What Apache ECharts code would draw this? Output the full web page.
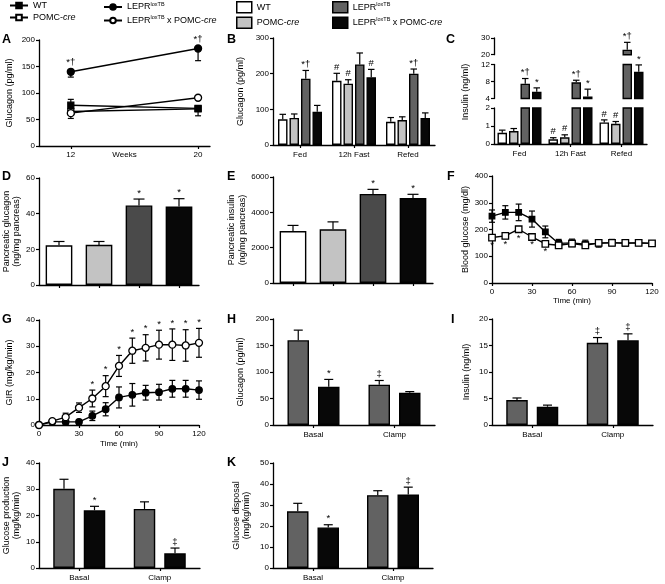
<!DOCTYPE html>
<html><head><meta charset="utf-8">
<script src="https://cdn.jsdelivr.net/npm/echarts@6/dist/echarts.min.js"></script>
<style>html,body{margin:0;padding:0;background:#fff}#c{width:665px;height:584px}</style>
</head><body><div id="c"></div>
<script>
// ================= DATA =================
// Panel A: plasma glucagon vs age
const A_weeks = [12, 20];
const A_WT = [77, 71];            const A_WT_errUp = [11, 0];   const A_WT_errDn = [0, 14];
const A_POMC = [65, 70];          const A_POMC_errUp = [0, 0];  const A_POMC_errDn = [0, 0];
const A_LEPR = [140, 184];        const A_LEPR_errUp = [0, 0];  const A_LEPR_errDn = [10, 23];
const A_LEPRxPOMC = [62, 91];     const A_LEPRxPOMC_errUp = [0, 0]; const A_LEPRxPOMC_errDn = [10, 0];
const A_LEPR_sig = ['*†', '*†'];

// Panel B: glucagon by feeding state
const B_cats = ['Fed', '12h Fast', 'Refed'];
const B_WT = [72, 180, 65];          const B_WT_err = [14, 21, 12];
const B_POMC = [76, 172, 70];        const B_POMC_err = [11, 11, 9];
const B_LEPR = [186, 226, 200];      const B_LEPR_err = [23, 32, 13];
const B_LEPRxPOMC = [93, 190, 76];   const B_LEPRxPOMC_err = [18, 22, 14];
const B_WT_sig = ['', '#', ''];
const B_POMC_sig = ['', '#', ''];
const B_LEPR_sig = ['*†', '', '*†'];
const B_LEPRxPOMC_sig = ['', '#', ''];

// Panel C: insulin by feeding state (broken axis)
const C_cats = ['Fed', '12h Fast', 'Refed'];
const C_WT = [0.62, 0.26, 1.2];       const C_WT_err = [0.15, 0.09, 0.14];
const C_POMC = [0.72, 0.37, 1.12];    const C_POMC_err = [0.14, 0.14, 0.13];
const C_LEPR = [7.5, 7.8, 23];        const C_LEPR_err = [1.2, 0.5, 4.4];
const C_LEPRxPOMC = [5.6, 4.5, 10.3]; const C_LEPRxPOMC_err = [0.9, 1.7, 1.6];
const C_WT_sig = ['', '#', '#'];
const C_POMC_sig = ['', '#', '#'];
const C_LEPR_sig = ['*†', '*†', '*†'];
const C_LEPRxPOMC_sig = ['*', '*', '*'];
const C_segments = [[0, 2, 1], [4, 12, 4], [20, 30, 10]]; // [min, max, interval]

// Panel D: pancreatic glucagon
const D_vals = [22.3, 22.5, 44.6, 44.0];
const D_err = [2.1, 1.9, 3.6, 4.4];
const D_sig = ['', '', '*', '*'];

// Panel E: pancreatic insulin
const E_vals = [2940, 3040, 5040, 4810];
const E_err = [320, 420, 260, 210];
const E_sig = ['', '', '*', '*'];

// Panel F: blood glucose during clamp
const F_time = [0, 10, 20, 30, 40, 50, 60, 70, 80, 90, 100, 110, 120];
const F_filled = [250, 264, 264, 239, 191, 148, 150, 145, 148, 151, 148, 150, 148];
const F_filled_err = [23, 25, 31, 30, 22, 15, 14, 15, 14, 12, 6, 6, 6];
const F_open = [170, 176, 201, 172, 146, 141, 147, 141, 150, 150, 150, 150, 148];
const F_open_err = [8, 10, 10, 6, 5, 5, 5, 5, 5, 5, 4, 4, 4];
const F_sig = ['*', '*', '*', '*', '*', '', '', '', '', '', '', '', ''];

// Panel G: glucose infusion rate
const G_time = [0, 10, 20, 30, 40, 50, 60, 70, 80, 90, 100, 110, 120];
const G_open = [0, 1.5, 3.0, 6.6, 10.1, 14.8, 22.5, 28.3, 29.4, 30.6, 30.6, 30.3, 31.3];
const G_open_err = [0, 0.5, 1.5, 1.8, 3.2, 4.0, 4.0, 4.8, 5.0, 5.5, 6.0, 6.0, 5.5];
const G_filled = [0, 1.2, 1.2, 1.2, 3.5, 6.0, 10.5, 11.5, 12.3, 12.5, 13.8, 13.8, 13.3];
const G_filled_err = [0, 0.5, 1.0, 0.8, 1.8, 2.5, 4.0, 4.3, 2.8, 3.0, 3.2, 3.2, 3.5];
const G_sig = ['', '', '', '', '*', '*', '*', '*', '*', '*', '*', '*', '*'];

// Panels H-K: clamp studies
const HK_cats = ['Basal', 'Clamp'];
const H_LEPR = [160, 76];     const H_LEPR_err = [19, 8];     const H_LEPR_sig = ['', '‡'];
const H_LEPRxPOMC = [72, 61]; const H_LEPRxPOMC_err = [14, 2]; const H_LEPRxPOMC_sig = ['*', ''];
const I_LEPR = [4.7, 15.5];   const I_LEPR_err = [0.4, 1.0];   const I_LEPR_sig = ['', '‡'];
const I_LEPRxPOMC = [3.45, 16.0]; const I_LEPRxPOMC_err = [0.3, 1.2]; const I_LEPRxPOMC_sig = ['', '‡'];
const J_LEPR = [30.2, 22.5];  const J_LEPR_err = [3.6, 2.7];   const J_LEPR_sig = ['', ''];
const J_LEPRxPOMC = [22.0, 5.6]; const J_LEPRxPOMC_err = [1.5, 2.0]; const J_LEPRxPOMC_sig = ['*', '‡'];
const K_LEPR = [27.0, 34.7];  const K_LEPR_err = [3.8, 2.1];   const K_LEPR_sig = ['', ''];
const K_LEPRxPOMC = [19.3, 35.0]; const K_LEPRxPOMC_err = [1.3, 3.5]; const K_LEPRxPOMC_sig = ['*', '‡'];

// Text
const PANEL_LETTERS = ['A','B','C','D','E','F','G','H','I','J','K'];
const LEGEND_LABELS = {
  lWT: '{n|WT}', lPOMC: '{n|POMC-}{i|cre}', lLEPR: '{n|LEPR}{s|loxTB}', lLEPRxPOMC: '{n|LEPR}{s|loxTB}{n| x POMC-}{i|cre}',
  bWT: '{n|WT}', bPOMC: '{n|POMC-}{i|cre}', bLEPR: '{n|LEPR}{s|loxTB}', bLEPRxPOMC: '{n|LEPR}{s|loxTB}{n| x POMC-}{i|cre}'
};

// ================= STYLE / LAYOUT =================
const FONT = '"Liberation Sans", Arial, Helvetica, sans-serif';
const COL = { white: '#ffffff', light: '#c3c3c3', dark: '#626262', darkD: '#4a4a4a', black: '#080808' };
const LETTER_POS = [[2,33],[227,33],[446,33],[2,170],[227,170],[447,170],[2,313],[227,313],[451,313],[2,456],[227,456]];

function merge(a, b) {
  const o = Object.assign({}, a);
  for (const k in b) {
    if (b[k] && typeof b[k] === 'object' && !Array.isArray(b[k]) && a[k] && typeof a[k] === 'object' && !Array.isArray(a[k])) o[k] = merge(a[k], b[k]);
    else o[k] = b[k];
  }
  return o;
}
const AXLINE = { show: true, onZero: false, lineStyle: { color: '#000', width: 1.3 } };
const AXTICK = { show: true, length: 3, lineStyle: { color: '#000', width: 1.2 } };
const LBL = { color: '#000', fontSize: 8, fontFamily: FONT };
const Y_BASE = { type: 'value', axisLine: AXLINE, axisTick: AXTICK, axisLabel: merge(LBL, { margin: 4, formatter: v => String(v) }), splitLine: { show: false },
  nameLocation: 'middle', nameTextStyle: { color: '#000', fontSize: 9, fontFamily: FONT, lineHeight: 10.5 } };
const XC_BASE = { type: 'category', axisLine: AXLINE, axisTick: merge(AXTICK, { alignWithLabel: true }), axisLabel: merge(LBL, { margin: 6, interval: 0 }), splitLine: { show: false } };
const XV_BASE = { type: 'value', axisLine: AXLINE, axisTick: AXTICK, axisLabel: merge(LBL, { margin: 5 }), splitLine: { show: false },
  nameLocation: 'middle', nameMoveOverlap: false, nameTextStyle: { color: '#000', fontSize: 8, fontFamily: FONT } };

const grids = [], xAxes = [], yAxes = [], series = [];
function addGrid(b) { grids.push(Object.assign({ containLabel: false, outerBoundsMode: 'none' }, b)); return grids.length - 1; }
function addX(o) { xAxes.push(o); return xAxes.length - 1; }
function addY(o) { yAxes.push(o); return yAxes.length - 1; }

function lineS(xi, yi, name, xs, vals, symbol, fill, size) {
  series.push({ type: 'line', name, xAxisIndex: xi, yAxisIndex: yi, z: 5, animation: false, silent: true,
    data: xs.map((x, i) => [x, vals[i]]), symbol, symbolSize: size, showSymbol: true,
    itemStyle: { color: fill, borderColor: '#000', borderWidth: 1.3 }, lineStyle: { color: '#000', width: 1.4 } });
}
function barS(xi, yi, name, vals, color, bw, gap) {
  series.push({ type: 'bar', name, xAxisIndex: xi, yAxisIndex: yi, z: 2, animation: false, silent: true, clip: true,
    data: vals, barWidth: bw, barGap: gap, itemStyle: { color, borderColor: '#000', borderWidth: 1.4 } });
}
function errS(xi, yi, xs, vals, eUp, eDn, sig, opt) {
  const o = Object.assign({ offset: 0, cap: 6, lo: -Infinity, hi: Infinity, sigBelow: false, sigPad: 1, lw: 1.2, sigSize: 9.5 }, opt || {});
  series.push({ type: 'custom', xAxisIndex: xi, yAxisIndex: yi, z: 4, silent: true, animation: false,
    encode: { x: 0, y: 1 },
    data: xs.map((x, i) => [x, vals[i], eUp ? eUp[i] : 0, eDn ? eDn[i] : 0]),
    renderItem(params, api) {
      const i = params.dataIndex;
      const x = api.value(0), v = api.value(1), eu = api.value(2), ed = api.value(3);
      const X = api.coord([x, v])[0] + o.offset;
      const Y = val => api.coord([x, val])[1];
      const ch = [];
      const ln = (x1, y1, x2, y2) => ch.push({ type: 'line', shape: { x1, y1, x2, y2 }, style: { stroke: '#000', lineWidth: o.lw } });
      const whisker = end => {
        const a = Math.max(Math.min(v, end), o.lo), b = Math.min(Math.max(v, end), o.hi);
        if (b > a) ln(X, Y(a), X, Y(b));
        if (end >= o.lo && end <= o.hi) ln(X - o.cap / 2, Y(end), X + o.cap / 2, Y(end));
      };
      if (eu > 0) whisker(v + eu);
      if (ed > 0) whisker(v - ed);
      const s = sig && sig[i];
      if (s) {
        const ref = o.sigBelow ? v - ed : v + eu;
        if (ref >= o.lo && ref <= o.hi) {
          ch.push({ type: 'text', x: X, y: o.sigBelow ? Y(ref) + o.sigPad : Y(ref) - o.sigPad,
            style: { text: s, fill: '#000', fontSize: o.sigSize, fontFamily: FONT, align: 'center', verticalAlign: o.sigBelow ? 'top' : 'bottom' } });
        }
      }
      return { type: 'group', children: ch };
    } });
}
const idx = arr => arr.map((_, i) => i);

// ---------- Panel A ----------
{
  const g = addGrid({ left: 39, top: 40, width: 171, height: 106 });
  const xi = addX(merge(XV_BASE, { gridIndex: g, min: 10, max: 20.75, axisLabel: { customValues: A_weeks }, axisTick: { customValues: A_weeks }, name: 'Weeks', nameGap: 5 }));
  const yi = addY(merge(Y_BASE, { gridIndex: g, min: 0, max: 200, interval: 50, name: 'Glucagon (pg/ml)', nameGap: 24 }));
  errS(xi, yi, A_weeks, A_WT, A_WT_errUp, A_WT_errDn, null, { cap: 6 });
  errS(xi, yi, A_weeks, A_POMC, A_POMC_errUp, A_POMC_errDn, null, { cap: 6 });
  errS(xi, yi, A_weeks, A_LEPR, A_LEPR_errUp, A_LEPR_errDn, A_LEPR_sig, { cap: 6, sigPad: 4 });
  errS(xi, yi, A_weeks, A_LEPRxPOMC, A_LEPRxPOMC_errUp, A_LEPRxPOMC_errDn, null, { cap: 6 });
  lineS(xi, yi, 'lPOMC', A_weeks, A_POMC, 'rect', '#fff', 6);
  lineS(xi, yi, 'lWT', A_weeks, A_WT, 'rect', '#000', 6);
  lineS(xi, yi, 'lLEPRxPOMC', A_weeks, A_LEPRxPOMC, 'circle', '#fff', 7);
  lineS(xi, yi, 'lLEPR', A_weeks, A_LEPR, 'circle', '#000', 7);
}

// ---------- Panel B ----------
{
  const g = addGrid({ left: 273, top: 38, width: 162, height: 107 });
  const xi = addX(merge(XC_BASE, { gridIndex: g, data: B_cats }));
  const yi = addY(merge(Y_BASE, { gridIndex: g, min: 0, max: 300, interval: 100, name: 'Glucagon (pg/ml)', nameGap: 27 }));
  const bw = 9.5, gp = 2, xs = idx(B_cats);
  const sets = [['bWT', B_WT, B_WT_err, B_WT_sig, COL.white], ['bPOMC', B_POMC, B_POMC_err, B_POMC_sig, COL.light],
                ['bLEPR', B_LEPR, B_LEPR_err, B_LEPR_sig, COL.dark], ['bLEPRxPOMC', B_LEPRxPOMC, B_LEPRxPOMC_err, B_LEPRxPOMC_sig, COL.black]];
  sets.forEach((s, k) => {
    barS(xi, yi, s[0], s[1], s[4], bw, (gp / bw * 100) + '%');
    errS(xi, yi, xs, s[1], s[2], null, s[3], { offset: (k - 1.5) * (bw + gp), cap: 6.5 });
  });
}

// ---------- Panel C (broken y axis) ----------
{
  const boxes = [{ top: 108, height: 36 }, { top: 64.5, height: 34 }, { top: 38, height: 16.7 }];
  const bw = 9.5, gp = 2, xs = idx(C_cats);
  const sets = [['bWT', C_WT, C_WT_err, C_WT_sig, COL.white], ['bPOMC', C_POMC, C_POMC_err, C_POMC_sig, COL.light],
                ['bLEPR', C_LEPR, C_LEPR_err, C_LEPR_sig, COL.dark], ['bLEPRxPOMC', C_LEPRxPOMC, C_LEPRxPOMC_err, C_LEPRxPOMC_sig, COL.black]];
  C_segments.forEach((seg, si) => {
    const [lo, hi, iv] = seg;
    const g = addGrid(Object.assign({ left: 494, width: 153 }, boxes[si]));
    const xi = addX(si === 0 ? merge(XC_BASE, { gridIndex: g, data: C_cats }) : { type: 'category', gridIndex: g, data: C_cats, show: false });
    const yi = addY(merge(Y_BASE, { gridIndex: g, min: lo, max: hi, interval: iv }));
    sets.forEach((s, k) => {
      barS(xi, yi, s[0], s[1].map(v => (v > lo ? v : '-')), s[4], bw, (gp / bw * 100) + '%');
      errS(xi, yi, xs, s[1], s[2], null, s[3], { offset: (k - 1.5) * (bw + gp), cap: 6.5, lo, hi });
    });
  });
}

// ---------- Panels D, E ----------
function singleBars(box, vals, err, sig, yopt, cols) {
  const g = addGrid(box);
  const xs = idx(vals);
  const xi = addX(merge(XC_BASE, { gridIndex: g, data: xs.map(String), axisLabel: { show: false } }));
  const yi = addY(merge(Y_BASE, merge({ gridIndex: g }, yopt)));
  series.push({ type: 'bar', name: 'pancreas', xAxisIndex: xi, yAxisIndex: yi, z: 2, animation: false, silent: true, barWidth: 26.7,
    data: vals.map((v, i) => ({ value: v, itemStyle: { color: cols[i], borderColor: '#000', borderWidth: 1.4 } })) });
  errS(xi, yi, xs, vals, err, null, sig, { cap: 11 });
}
singleBars({ left: 39, top: 178, width: 160, height: 107 }, D_vals, D_err, D_sig,
  { min: 0, max: 60, interval: 20, name: 'Pancreatic glucagon\n(ng/mg pancreas)', nameGap: 15 }, [COL.white, COL.light, COL.darkD, COL.black]);
singleBars({ left: 273, top: 177, width: 160, height: 106 }, E_vals, E_err, E_sig,
  { min: 0, max: 6000, interval: 2000, name: 'Pancreatic insulin\n(ng/mg pancreas)', nameGap: 21 }, [COL.white, COL.light, COL.darkD, COL.black]);

// ---------- Panel F ----------
{
  const g = addGrid({ left: 492, top: 176, width: 160, height: 107 });
  const xi = addX(merge(XV_BASE, { gridIndex: g, min: 0, max: 120, interval: 30, name: 'Time (min)', nameGap: 14 }));
  const yi = addY(merge(Y_BASE, { gridIndex: g, min: 0, max: 400, interval: 100, name: 'Blood glucose (mg/dl)', nameGap: 21 }));
  errS(xi, yi, F_time, F_filled, F_filled_err, F_filled_err, null, { cap: 6 });
  errS(xi, yi, F_time, F_open, F_open_err, F_open_err, F_sig, { cap: 6, sigBelow: true, sigPad: 1 });
  lineS(xi, yi, 'lWT', F_time, F_filled, 'rect', '#000', 5.5);
  lineS(xi, yi, 'lPOMC', F_time, F_open, 'rect', '#fff', 6.5);
}

// ---------- Panel G ----------
{
  const g = addGrid({ left: 39, top: 320, width: 160, height: 105 });
  const xi = addX(merge(XV_BASE, { gridIndex: g, min: 0, max: 120, interval: 30, name: 'Time (min)', nameGap: 15 }));
  const yi = addY(merge(Y_BASE, { gridIndex: g, min: 0, max: 40, interval: 10, name: 'GIR (mg/kg/min)', nameGap: 24 }));
  errS(xi, yi, G_time, G_filled, G_filled_err, G_filled_err, null, { cap: 6 });
  errS(xi, yi, G_time, G_open, G_open_err, G_open_err, G_sig, { cap: 6, sigPad: 1 });
  lineS(xi, yi, 'lLEPR', G_time, G_filled, 'circle', '#000', 6.5);
  lineS(xi, yi, 'lLEPRxPOMC', G_time, G_open, 'circle', '#fff', 7);
}

// ---------- Panels H-K ----------
function pairBars(box, a, aErr, aSig, b, bErr, bSig, yopt) {
  const g = addGrid(box);
  const xs = idx(HK_cats);
  const xi = addX(merge(XC_BASE, { gridIndex: g, data: HK_cats }));
  const yi = addY(merge(Y_BASE, merge({ gridIndex: g }, yopt)));
  const bw = 21.5, gp = 9;
  barS(xi, yi, 'bLEPR', a, COL.dark, bw, (gp / bw * 100) + '%');
  barS(xi, yi, 'bLEPRxPOMC', b, COL.black, bw, (gp / bw * 100) + '%');
  errS(xi, yi, xs, a, aErr, null, aSig, { offset: -(bw + gp) / 2, cap: 9 });
  errS(xi, yi, xs, b, bErr, null, bSig, { offset: (bw + gp) / 2, cap: 9 });
}
pairBars({ left: 273, top: 319, width: 162, height: 106 }, H_LEPR, H_LEPR_err, H_LEPR_sig, H_LEPRxPOMC, H_LEPRxPOMC_err, H_LEPRxPOMC_sig,
  { min: 0, max: 200, interval: 50, name: 'Glucagon (pg/ml)', nameGap: 27 });
pairBars({ left: 492, top: 319, width: 161, height: 106 }, I_LEPR, I_LEPR_err, I_LEPR_sig, I_LEPRxPOMC, I_LEPRxPOMC_err, I_LEPRxPOMC_sig,
  { min: 0, max: 20, interval: 5, name: 'Insulin (ng/ml)', nameGap: 20 });
pairBars({ left: 39, top: 463, width: 161, height: 105 }, J_LEPR, J_LEPR_err, J_LEPR_sig, J_LEPRxPOMC, J_LEPRxPOMC_err, J_LEPRxPOMC_sig,
  { min: 0, max: 40, interval: 10, name: 'Glucose production\n(mg/kg/min)', nameGap: 15 });
pairBars({ left: 273, top: 463, width: 160, height: 105 }, K_LEPR, K_LEPR_err, K_LEPR_sig, K_LEPRxPOMC, K_LEPRxPOMC_err, K_LEPRxPOMC_sig,
  { min: 0, max: 50, interval: 10, name: 'Glucose disposal\n(mg/kg/min)', nameGap: 21 });

// ---------- Legends ----------
const RICH = {
  n: { fontSize: 9, fontFamily: FONT, color: '#000' },
  i: { fontSize: 9, fontFamily: FONT, color: '#000', fontStyle: 'italic' },
  s: { fontSize: 5.5, fontFamily: FONT, color: '#000', padding: [0, 0, 6, 0] }
};
function legend(left, names, box) {
  const L = { left, top: 1, orient: 'vertical', padding: 0, itemGap: 3, selectedMode: false,
    itemWidth: box ? 15 : 18, itemHeight: box ? 11 : 7,
    formatter: n => LEGEND_LABELS[n], textStyle: { color: '#000', fontSize: 9, fontFamily: FONT, rich: RICH } };
  if (box) {
    L.icon = 'rect';
    L.data = names.map(n => ({ name: n[0], itemStyle: { color: n[1], borderColor: '#000', borderWidth: 1.5 } }));
  } else L.data = names;
  return L;
}

// ---------- Graphic text ----------
const graphic = PANEL_LETTERS.map((t, i) => ({ type: 'text', left: LETTER_POS[i][0], top: LETTER_POS[i][1],
  style: { text: t, fontSize: 12.5, fontWeight: 'bold', fontFamily: FONT, fill: '#000' } }));
graphic.push({ type: 'text', x: 466, y: 92, rotation: Math.PI / 2,
  style: { text: 'Insulin (ng/ml)', fontSize: 9, fontFamily: FONT, fill: '#000', align: 'center', verticalAlign: 'middle' } });

const chart = echarts.init(document.getElementById('c'), null, { renderer: 'canvas' });
chart.setOption({
  animation: false,
  backgroundColor: '#fff',
  textStyle: { fontFamily: FONT },
  legend: [
    legend(9, ['lWT', 'lPOMC'], false),
    legend(103, ['lLEPR', 'lLEPRxPOMC'], false),
    legend(236, [['bWT', COL.white], ['bPOMC', COL.light]], true),
    legend(332, [['bLEPR', COL.dark], ['bLEPRxPOMC', COL.black]], true)
  ],
  grid: grids, xAxis: xAxes, yAxis: yAxes, series, graphic
});
</script></body></html>
